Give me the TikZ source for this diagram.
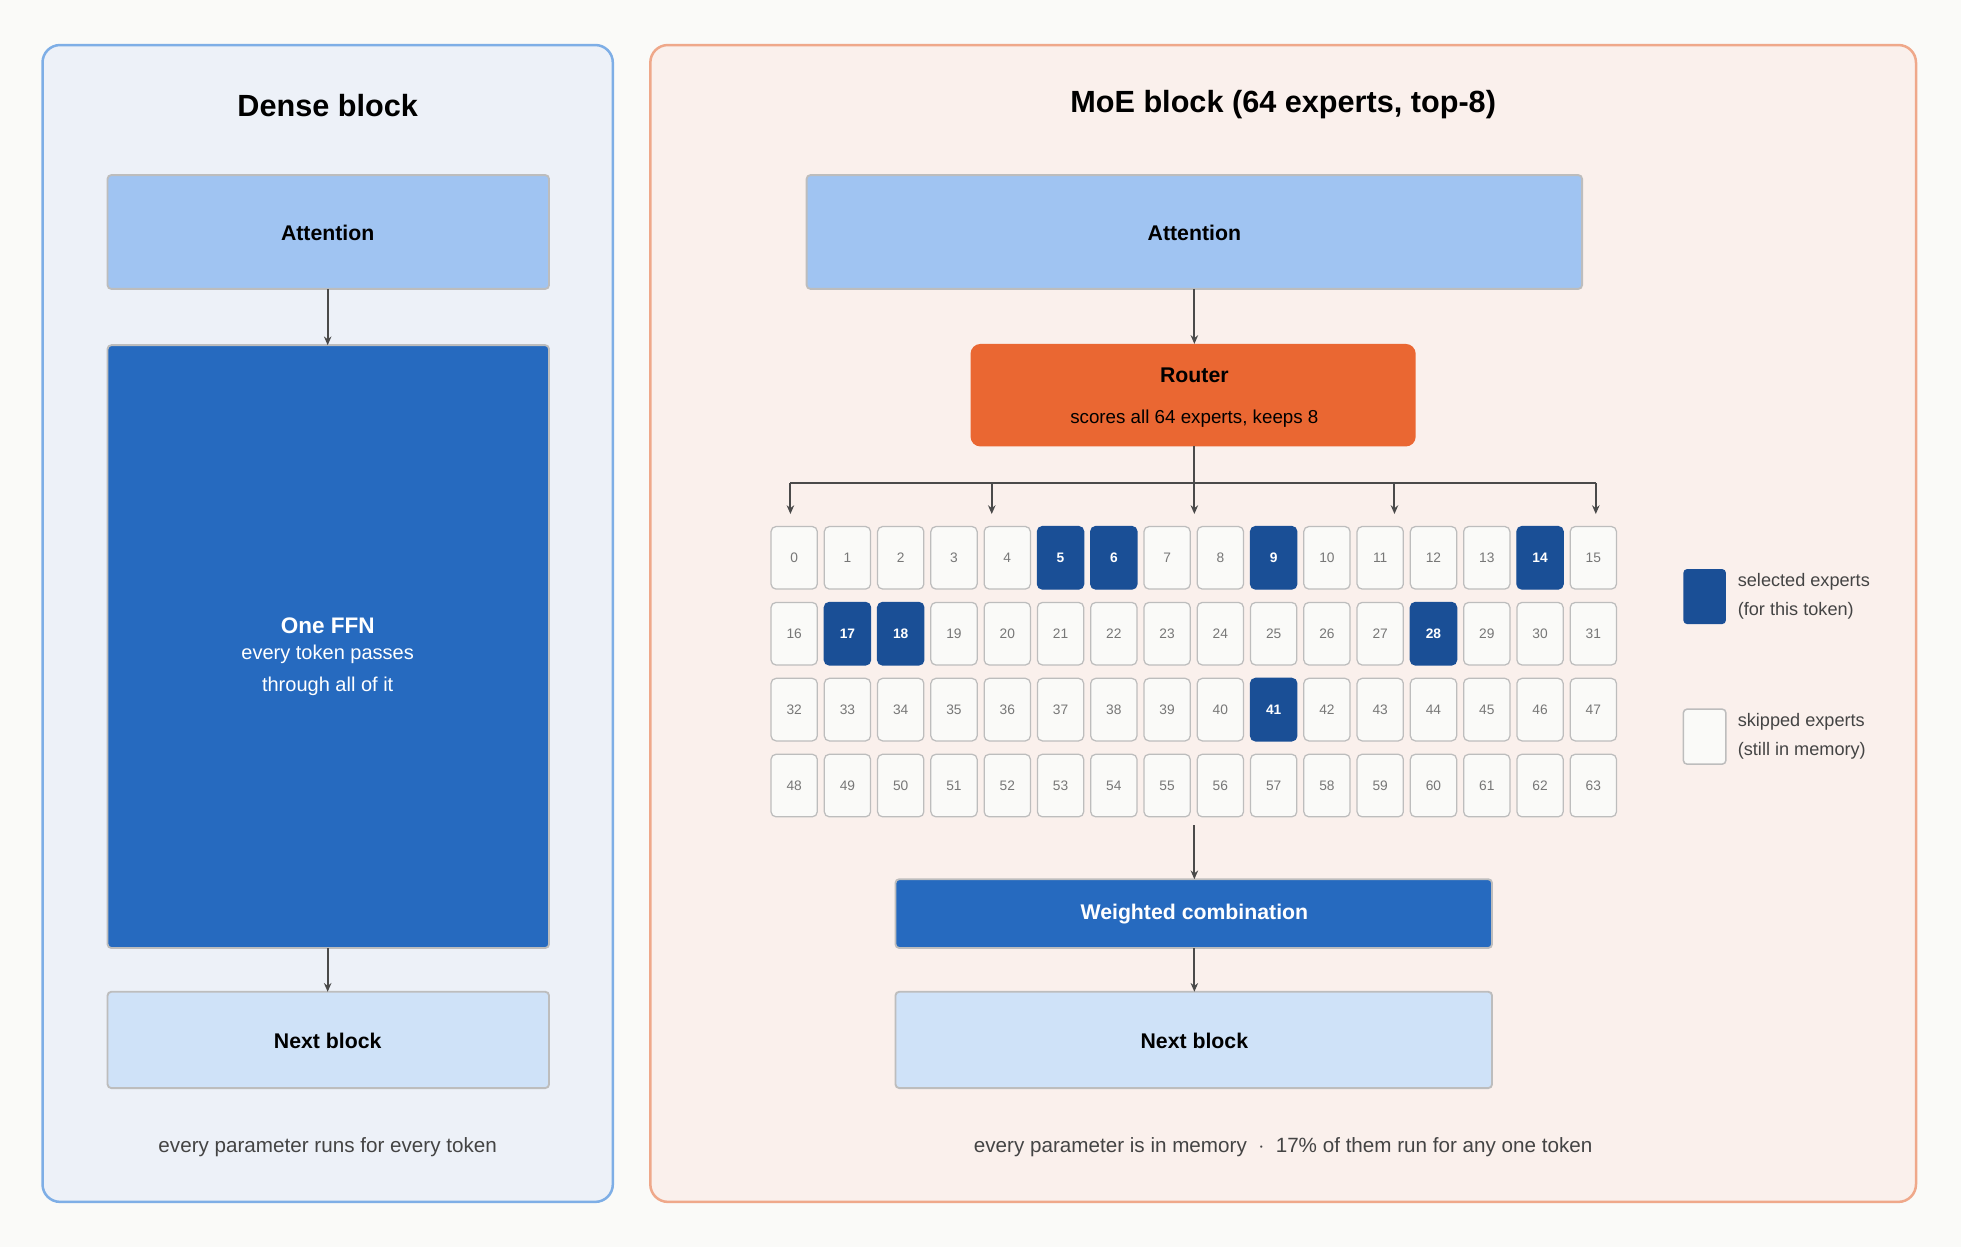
\documentclass[tikz,border=0pt]{standalone}
\usepackage{fontspec}
\setmainfont{Liberation Sans}
\usetikzlibrary{positioning}
\usetikzlibrary{arrows.meta}
\definecolor{bgpage}{HTML}{FAFAF8}
\definecolor{densefill}{HTML}{EDF1F8}
\definecolor{denseline}{HTML}{7EAEE6}
\definecolor{moefill}{HTML}{FAF0EC}
\definecolor{moeline}{HTML}{EFA88A}
\definecolor{attnfill}{HTML}{A0C4F2}
\definecolor{ffnfill}{HTML}{266ABF}
\definecolor{nextfill}{HTML}{CFE2F8}
\definecolor{routerfill}{HTML}{EA6732}
\definecolor{selfill}{HTML}{1A4F96}
\definecolor{boxline}{HTML}{BDBDBD}
\definecolor{arrowgray}{HTML}{4A4A4A}
\definecolor{captgray}{HTML}{444444}
\definecolor{cellgray}{HTML}{777777}

\begin{document}
\begin{tikzpicture}[
            x = 1pt, y = -1pt,
            > = {Stealth[length=7pt,width=6pt]},
            flow/.style = {->, draw = arrowgray, line width = 1.6pt},
            panel/.style = {rounded corners = 14pt, line width = 2pt},
            blockbox/.style = {draw = boxline, line width = 1.5pt, rounded corners = 3pt},
            cell/.style = {draw = boxline, line width = 1pt, fill = bgpage, rounded corners = 4pt,
                minimum width = 37pt, minimum height = 50pt, inner sep = 0pt,
                font = \fontsize{11}{13}\selectfont, text = cellgray},
            selcell/.style = {cell, draw = selfill, fill = selfill, text = white,
                font = \fontsize{11}{13}\selectfont\bfseries},
            bold/.style = {font = \fontsize{17}{20}\selectfont\bfseries},
            caption/.style = {font = \fontsize{16.5}{19}\selectfont, text = captgray}
        ]

        % canvas
        \fill[bgpage] (0,0) rectangle (1568,997);
        \useasboundingbox (0,0) rectangle (1568,997);

        % panels
        \draw[panel, fill = densefill, draw = denseline] (34,36) rectangle (490,961);
        \draw[panel, fill = moefill, draw = moeline] (520,36) rectangle (1532,961);
        \node (DT) at (262,84) {\fontsize{24.5}{28}\selectfont\bfseries Dense block};
        \node (MT) at (1026,84) {\fontsize{24.5}{28}\selectfont\bfseries MoE block (64 experts, top-8)};

        % dense block
        \draw[blockbox, fill = attnfill] (86,140) rectangle (439,231);
        \node[bold] (DA) at (262,186) {Attention};
        \coordinate (DAb) at (262,231);
        \draw[blockbox, fill = ffnfill] (86,276) rectangle (439,758);
        \coordinate (DFt) at (262,276);
        \coordinate (DFb) at (262,758);
        \node[text = white, font = \fontsize{18}{22}\selectfont\bfseries] (DF) at (262,500) {One FFN};
        \node[text = white, font = \fontsize{16}{20}\selectfont] (DF1) at (262,523) {every token passes};
        \node[text = white, font = \fontsize{16}{20}\selectfont] (DF2) at (262,549) {through all of it};
        \draw[blockbox, fill = nextfill] (86,793) rectangle (439,870);
        \coordinate (DNt) at (262,793);
        \node[bold] (DN) at (262,832) {Next block};
        \node[caption] (DC) at (262,917) {every parameter runs for every token};

        \draw[flow] (DAb) -- (DFt);
        \draw[flow] (DFb) -- (DNt);

        % moe block
        \draw[blockbox, fill = attnfill] (645,140) rectangle (1265,231);
        \node[bold] (MA) at (955,186) {Attention};
        \coordinate (MAb) at (955,231);
        \fill[routerfill, rounded corners = 8pt] (776,275) rectangle (1132,357);
        \coordinate (Rt) at (955,275);
        \coordinate (Rb) at (955,357);
        \node[bold] (R) at (955,300) {Router};
        \node[font = \fontsize{15}{18}\selectfont] (RS) at (955,335) {scores all 64 experts, keeps 8};
        \draw[flow] (MAb) -- (Rt);

        % router fan-out
        \coordinate (bus) at (955,386);
        \draw[draw = arrowgray, line width = 1.6pt] (Rb) -- (bus);
        \draw[draw = arrowgray, line width = 1.6pt] (632,386) -- (1276,386);
        \foreach \bx in {632,793,955,1115,1276}
            \draw[flow] (\bx,386) -- (\bx,411);

        % experts
        \foreach \i in {0,...,63} {
            \pgfmathtruncatemacro{\col}{mod(\i,16)}
            \pgfmathtruncatemacro{\row}{int(\i/16)}
            \global\def\st{cell}
            \foreach \s in {5,6,9,14,17,18,28,41}
                {\ifnum\i=\s \global\def\st{selcell}\fi}
            \node[\st] (e\i) at ({635+42.6*\col},{446+60.7*\row}) {\i};
        }

        % combine
        \coordinate (Gb) at (955,660);
        \draw[blockbox, fill = ffnfill] (716,703) rectangle (1193,758);
        \coordinate (Wt) at (955,703);
        \coordinate (Wb) at (955,758);
        \node[bold, text = white] (W) at (955,731) {Weighted combination};
        \draw[blockbox, fill = nextfill] (716,793) rectangle (1193,870);
        \coordinate (MNt) at (955,793);
        \node[bold] (MN) at (955,832) {Next block};
        \draw[flow] (Gb) -- (Wt);
        \draw[flow] (Wb) -- (MNt);
        \node[caption] (MC) at (1026,917) {every parameter is in memory \ $\cdot$\ \ 17\% of them run for any one token};

        % legend
        \fill[selfill, rounded corners = 3pt] (1346,455) rectangle (1380,499);
        \node[anchor = west, align = left, font = \fontsize{14.5}{23}\selectfont, text = captgray] (L1) at (1386,477)
            {selected experts\\(for this token)};
        \draw[fill = bgpage, draw = boxline, line width = 1.2pt, rounded corners = 3pt] (1346,567) rectangle (1380,611);
        \node[anchor = west, align = left, font = \fontsize{14.5}{23}\selectfont, text = captgray] (L2) at (1386,589)
            {skipped experts\\(still in memory)};

  \end{tikzpicture}
\end{document}
